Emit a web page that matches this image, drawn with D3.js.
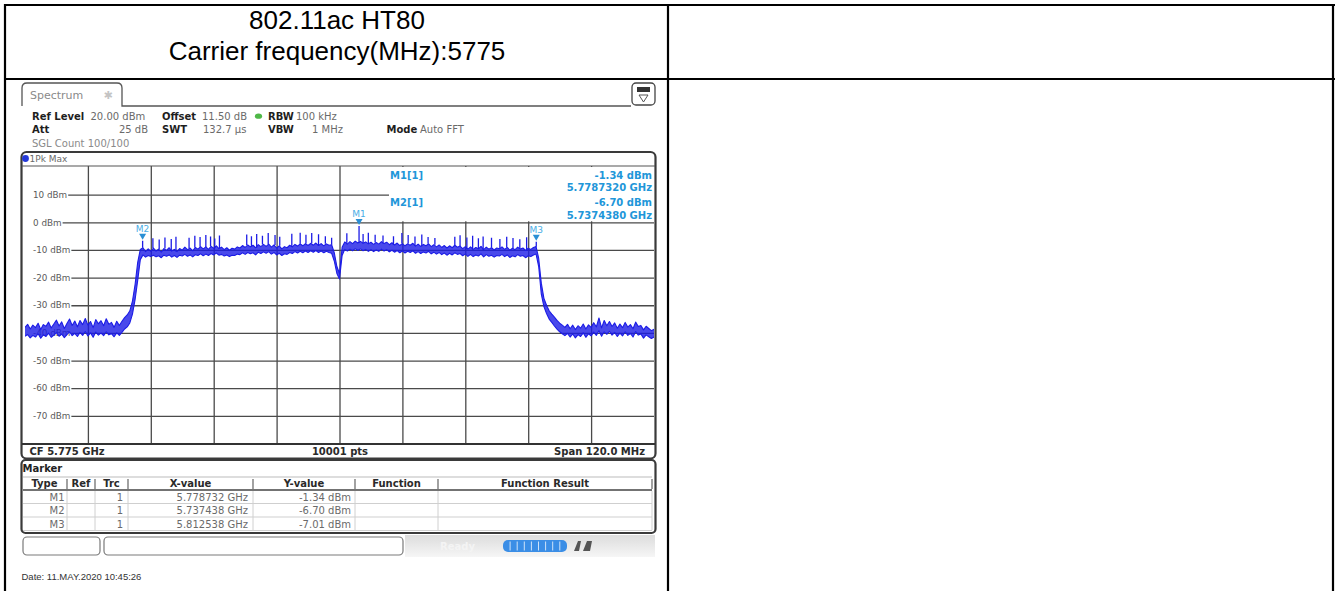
<!DOCTYPE html>
<html>
<head>
<meta charset="utf-8">
<script src="https://cdn.jsdelivr.net/npm/d3@7"></script>
<style>
  html, body { margin: 0; padding: 0; background: #fff; }
  svg { display: block; }
</style>
</head>
<body>
<svg id="chart" width="1338" height="591"></svg>
<script>
// ---- Sweep settings ----
const startMHz = 5715;
const stopMHz = 5835;
const stepMHz = 0.5;
const refLevelDbm = 20;
const bottomLevelDbm = -80;

// ---- Axis ticks ----
const yTickValues = [10, 0, -10, -20, -30, -40, -50, -60, -70];
const yTickLabels = ["10 dBm", "0 dBm", "-10 dBm", "-20 dBm", "-30 dBm", "-40 dBm", "-50 dBm", "-60 dBm", "-70 dBm"];
const xGridMHz = [5727, 5739, 5751, 5763, 5775, 5787, 5799, 5811, 5823];

// ---- Trace 1 (1Pk Max): upper envelope, one reading every 0.5 MHz from 5715 MHz ----
const traceMaxDbm = [
  -38.0,-36.9,-38.6,-37.2,-38.1,-36.5,-38.8,-37.0,-37.6,-36.1,
  -38.2,-36.8,-35.4,-37.5,-36.0,-38.4,-36.6,-35.0,-37.3,-35.7,
  -37.8,-35.5,-37.0,-34.8,-37.2,-35.9,-38.1,-35.2,-36.7,-35.6,
  -37.4,-34.9,-36.9,-36.2,-38.0,-35.8,-37.3,-35.8,-34.5,-33.5,
  -32.0,-28.5,-22.5,-14.5,-9.8,-9.2,-10.6,-9.6,-10.5,-9.3,
  -10.4,-9.7,-10.8,-9.5,-10.2,-9.2,-10.4,-9.8,-10.6,-9.5,
  -10.1,-9.0,-9.9,-9.3,-10.3,-9.1,-9.7,-8.8,-9.6,-8.9,
  -9.8,-8.7,-9.4,-8.5,-9.5,-9.0,-9.9,-9.2,-10.1,-9.4,
  -9.7,-8.9,-9.3,-8.4,-9.1,-8.2,-8.9,-8.3,-9.2,-8.1,
  -8.8,-8.0,-8.7,-7.9,-9.0,-8.2,-9.3,-8.5,-9.6,-8.8,
  -9.2,-8.3,-8.9,-8.0,-8.6,-7.8,-8.5,-7.7,-8.4,-7.6,
  -8.3,-7.5,-8.4,-7.7,-8.5,-7.8,-8.3,-8.1,-11.0,-16.0,
  -18.5,-9.0,-7.1,-7.9,-7.0,-7.7,-6.8,-7.5,-6.9,-7.6,
  -7.1,-7.8,-7.2,-8.0,-7.3,-7.9,-7.0,-7.7,-7.2,-8.1,
  -7.4,-8.2,-7.5,-8.4,-7.7,-8.5,-7.8,-8.3,-7.6,-8.6,
  -7.9,-8.7,-8.0,-8.5,-7.8,-8.8,-8.1,-8.9,-8.2,-9.1,
  -8.4,-9.3,-8.5,-9.2,-8.3,-9.0,-8.6,-9.5,-8.8,-9.7,
  -8.9,-9.8,-9.1,-9.6,-8.7,-9.9,-9.0,-9.7,-9.2,-10.0,
  -9.3,-9.6,-8.9,-9.8,-9.1,-10.1,-9.4,-9.9,-9.0,-9.7,
  -9.3,-10.2,-9.4,-9.8,-9.1,-8.8,-13.0,-22.0,-27.5,-30.0,
  -32.0,-33.2,-34.3,-35.5,-36.5,-37.2,-38.0,-36.9,-38.5,-37.2,
  -38.8,-37.4,-38.3,-36.8,-38.6,-37.1,-38.0,-36.3,-37.8,-34.6,
  -38.2,-35.5,-37.4,-35.9,-37.7,-36.4,-38.3,-36.8,-38.1,-36.2,
  -37.9,-37.0,-38.5,-36.1,-37.7,-37.3,-38.9,-37.6,-38.4,-39.2,
  -38.7
];

// ---- Trace 1: lower envelope at the same sweep points ----
const traceMinDbm = [
  -41.2,-40.6,-41.8,-40.9,-41.5,-40.3,-41.9,-40.7,-41.3,-40.1,
  -41.6,-40.8,-39.9,-41.2,-40.4,-41.7,-40.6,-39.6,-41.0,-40.2,
  -41.3,-39.8,-40.9,-39.5,-41.1,-40.0,-41.6,-39.7,-40.8,-40.1,
  -41.0,-39.6,-40.7,-40.3,-41.4,-40.0,-40.9,-39.8,-38.6,-37.8,
  -36.4,-33.2,-28.0,-21.0,-13.5,-11.8,-12.6,-12.0,-12.4,-11.9,
  -12.5,-12.1,-12.8,-11.9,-12.3,-11.8,-12.6,-12.0,-12.7,-11.9,
  -12.2,-11.6,-12.3,-11.8,-12.5,-11.7,-12.0,-11.4,-12.1,-11.5,
  -12.0,-11.3,-11.8,-11.1,-11.9,-11.6,-12.2,-11.8,-12.4,-11.9,
  -12.0,-11.5,-11.7,-11.0,-11.6,-10.9,-11.4,-11.0,-11.8,-10.8,
  -11.3,-10.7,-11.2,-10.6,-11.5,-10.9,-11.8,-11.2,-12.0,-11.4,
  -11.6,-10.9,-11.3,-10.6,-11.1,-10.5,-11.0,-10.4,-10.9,-10.3,
  -10.8,-10.2,-10.9,-10.4,-11.0,-10.5,-10.9,-11.2,-14.0,-18.5,
  -20.5,-12.0,-9.8,-10.4,-9.7,-10.3,-9.5,-10.2,-9.6,-10.3,
  -9.8,-10.5,-9.9,-10.6,-10.0,-10.5,-9.7,-10.4,-9.9,-10.7,
  -10.1,-10.8,-10.2,-11.0,-10.4,-11.1,-10.5,-10.9,-10.3,-11.2,
  -10.6,-11.3,-10.7,-11.1,-10.5,-11.4,-10.8,-11.5,-10.9,-11.7,
  -11.1,-11.9,-11.2,-11.8,-11.0,-11.6,-11.3,-12.1,-11.5,-12.3,
  -11.6,-12.4,-11.8,-12.2,-11.4,-12.5,-11.7,-12.3,-11.9,-12.6,
  -12.0,-12.2,-11.6,-12.4,-11.8,-12.7,-12.1,-12.5,-11.7,-12.3,
  -12.0,-12.8,-12.1,-12.4,-11.8,-11.5,-16.0,-26.0,-30.5,-33.0,
  -35.0,-36.2,-37.5,-38.6,-39.6,-40.3,-41.0,-40.2,-41.5,-40.4,
  -41.8,-40.6,-41.3,-40.0,-41.6,-40.3,-41.1,-39.7,-40.9,-39.2,
  -41.2,-39.6,-40.5,-39.4,-40.8,-39.8,-41.3,-40.1,-41.1,-39.6,
  -40.9,-40.2,-41.5,-39.5,-40.8,-40.4,-41.9,-40.7,-41.4,-42.0,
  -41.5
];

// ---- Narrow in-band spurs (frequency, peak level) ----
const spurMHz = [
  5737.44, 5739.4, 5740.6, 5741.7, 5742.9, 5743.8, 5746.3, 5747.4, 5748.4, 5749.5,
  5750.4, 5751.2, 5752.1, 5757.3, 5758.2, 5759.2, 5760.3, 5761.4, 5762.7, 5763.6,
  5765.9, 5767.5, 5768.6, 5769.7, 5771.0, 5772.3, 5773.5, 5776.4, 5778.73, 5779.5,
  5780.5, 5781.8, 5783.3, 5785.3, 5786.9, 5788.1, 5789.4, 5790.7, 5791.9, 5793.2,
  5797.0, 5798.0, 5799.3, 5800.4, 5801.5, 5802.4, 5804.0, 5805.6, 5806.9, 5808.1,
  5809.4, 5810.7, 5812.54
];
const spurDbm = [
  -6.7, -5.8, -6.2, -5.5, -6.0, -5.2, -5.6, -4.9, -5.3, -4.6,
  -5.1, -5.9, -4.8, -4.4, -5.0, -4.2, -4.9, -3.9, -4.6, -5.2,
  -4.1, -3.8, -4.5, -3.9, -4.3, -5.0, -5.6, -4.0, -1.34, -4.2,
  -3.8, -4.5, -4.8, -5.0, -3.9, -4.6, -5.1, -4.4, -5.3, -5.7,
  -5.2, -4.7, -5.5, -4.9, -5.8, -5.1, -5.6, -6.0, -5.2, -5.7,
  -6.1, -5.4, -7.01
];

// ---- Markers ----
const markerNames = ["M1", "M2", "M3"];
const markerMHz = [5778.732, 5737.438, 5812.538];
const markerDbm = [-1.34, -6.70, -7.01];

// ---- Marker table columns ----
const tableHeaders = ["Type", "Ref", "Trc", "X-value", "Y-value", "Function", "Function Result"];

const UI_FONT = "DejaVu Sans";
const svg = d3.select("#chart");
const defs = svg.append("defs");

function txt(sel, x, y, s, o = {}) {
  return sel.append("text")
    .attr("x", x).attr("y", y).text(s)
    .attr("font-family", o.ff || UI_FONT)
    .attr("font-size", o.fs || 10)
    .attr("font-weight", o.fw || "normal")
    .attr("fill", o.fill || "#6a6a6a")
    .attr("text-anchor", o.anchor || "start");
}

// ================= Report table =================
const tbl = svg.append("g").attr("stroke", "#000").attr("stroke-width", 2.2);
[[4, 5, 1335, 5], [4, 79, 1335, 79], [5, 4, 5, 591], [668, 4, 668, 591], [1333, 4, 1333, 591]]
  .forEach(([x1, y1, x2, y2]) => tbl.append("line").attr("x1", x1).attr("y1", y1).attr("x2", x2).attr("y2", y2));

txt(svg, 337, 28.5, "802.11ac HT80", { ff: "Liberation Sans", fs: 26, fill: "#000", anchor: "middle" });
txt(svg, 337, 59.5, "Carrier frequency(MHz):5775", { ff: "Liberation Sans", fs: 26, fill: "#000", anchor: "middle" });

// ================= Analyzer screen =================
const ui = svg.append("g");

// Tab "Spectrum"
ui.append("path")
  .attr("d", "M22,106 L22,88 Q22,83 27,83 L117,83 Q122,83 122,88 L122,106 L631,106")
  .attr("fill", "none").attr("stroke", "#555").attr("stroke-width", 1.3);
txt(ui, 30, 98.5, "Spectrum", { fs: 11, fill: "#8a8a8a" });
txt(ui, 108, 98.5, "\u2731", { fs: 11, fill: "#c4c4c4", anchor: "middle" });

// Display-config icon
ui.append("rect").attr("x", 632).attr("y", 83).attr("width", 23).attr("height", 22).attr("rx", 4)
  .attr("fill", "#fff").attr("stroke", "#444").attr("stroke-width", 1.3);
ui.append("rect").attr("x", 637).attr("y", 87).attr("width", 13).attr("height", 5).attr("fill", "#333");
ui.append("path").attr("d", "M639,95 L648,95 L643.5,102 Z").attr("fill", "none").attr("stroke", "#555").attr("stroke-width", 1);

// Settings header
const B = { fw: "bold", fill: "#1e1e1e" };
txt(ui, 32, 119.5, "Ref Level", B);
txt(ui, 90.5, 119.5, "20.00 dBm");
txt(ui, 162, 119.5, "Offset", B);
txt(ui, 202, 119.5, "11.50 dB");
ui.append("ellipse").attr("cx", 258.5).attr("cy", 116.2).attr("rx", 3.6).attr("ry", 2.6).attr("fill", "#4fb848");
txt(ui, 268, 119.5, "RBW", B);
txt(ui, 296, 119.5, "100 kHz");
txt(ui, 32, 133, "Att", B);
txt(ui, 148, 133, "25 dB", { anchor: "end" });
txt(ui, 162, 133, "SWT", B);
txt(ui, 203, 133, "132.7 \u00b5s");
txt(ui, 268, 133, "VBW", B);
txt(ui, 343, 133, "1 MHz", { anchor: "end" });
txt(ui, 386.5, 133, "Mode", B);
txt(ui, 420, 133, "Auto FFT");
txt(ui, 32, 146.5, "SGL Count 100/100", { fill: "#8a8a8a" });

// Diagram frame
const px0 = 25, px1 = 654, py0 = 166, py1 = 443.5;
ui.append("rect").attr("x", 21.5).attr("y", 152).attr("width", 634).attr("height", 306.5).attr("rx", 5)
  .attr("fill", "#fff").attr("stroke", "#3a3a3a").attr("stroke-width", 2.2);
ui.append("circle").attr("cx", 25.5).attr("cy", 158.5).attr("r", 3.4).attr("fill", "#2438d8");
txt(ui, 29.5, 162, "1Pk Max", { fs: 9, fill: "#6a6a6a" });

const x = d3.scaleLinear().domain([startMHz, stopMHz]).range([px0, px1]);
const y = d3.scaleLinear().domain([bottomLevelDbm, refLevelDbm]).range([py1, py0 + 1]);

// Grid
const grid = ui.append("g");
grid.append("g")
  .attr("transform", `translate(0,${py1})`)
  .call(d3.axisBottom(x).tickValues(xGridMHz).tickSize(-(py1 - py0)).tickFormat(""))
  .call(g => g.select(".domain").remove())
  .call(g => g.selectAll("line").attr("stroke", "#4a4a4a").attr("stroke-width", 1.3));
grid.append("g")
  .attr("transform", `translate(${px0},0)`)
  .call(d3.axisRight(y).tickValues(yTickValues).tickSize(px1 - px0).tickFormat(""))
  .call(g => g.select(".domain").remove())
  .call(g => g.selectAll("line").attr("stroke", "#4a4a4a").attr("stroke-width", 1.3));

// Diagram borders (top edge and status-line edge)
ui.append("line").attr("x1", 22).attr("x2", 655).attr("y1", py0).attr("y2", py0).attr("stroke", "#555").attr("stroke-width", 1.2);
ui.append("line").attr("x1", 22).attr("x2", 655).attr("y1", py1 + 0.5).attr("y2", py1 + 0.5).attr("stroke", "#333").attr("stroke-width", 2);

// Marker info field
ui.append("rect").attr("x", 389).attr("y", py0 + 1).attr("width", px1 - 389).attr("height", y(0) - py0 - 2).attr("fill", "#fff");

// Y labels on a white backing
const ylab = ui.append("g");
yTickValues.forEach((v, i) => {
  const t = txt(ylab, 33, y(v) + 3.2, yTickLabels[i], { fs: 8.8, fill: "#5a5a5a" });
  const w = t.node().getComputedTextLength();
  ylab.insert("rect", "text").attr("x", 23).attr("y", y(v) - 2).attr("width", 33 - 23 + w + 1).attr("height", 4).attr("fill", "#fff");
});

// Marker info text
const MC = "#2196d9";
txt(ui, 390, 178.5, `${markerNames[0]}[1]`, { fw: "bold", fill: MC });
txt(ui, 652, 178.5, `${markerDbm[0].toFixed(2)} dBm`, { fw: "bold", fill: MC, anchor: "end" });
txt(ui, 652, 190.5, `${(markerMHz[0] / 1000).toFixed(7)} GHz`, { fw: "bold", fill: MC, anchor: "end" });
txt(ui, 390, 206, `${markerNames[1]}[1]`, { fw: "bold", fill: MC });
txt(ui, 652, 206, `${markerDbm[1].toFixed(2)} dBm`, { fw: "bold", fill: MC, anchor: "end" });
txt(ui, 652, 218.5, `${(markerMHz[1] / 1000).toFixed(7)} GHz`, { fw: "bold", fill: MC, anchor: "end" });

// Trace: band between lower and upper envelope, both edges stroked
defs.append("clipPath").attr("id", "plotClip")
  .append("rect").attr("x", px0).attr("y", py0).attr("width", px1 - px0).attr("height", py1 - py0);
const tr = ui.append("g").attr("clip-path", "url(#plotClip)");
const TRACE = "#1c1ce6";
const pts = traceMaxDbm.map((v, i) => ({ f: startMHz + i * stepMHz, hi: v, lo: traceMinDbm[i] }));
tr.append("path")
  .attr("d", d3.area().x(d => x(d.f)).y0(d => y(d.lo)).y1(d => y(d.hi))(pts))
  .attr("fill", TRACE).attr("fill-opacity", 0.8);
tr.append("path")
  .attr("d", d3.line().x(d => x(d.f)).y(d => y(d.hi))(pts))
  .attr("fill", "none").attr("stroke", TRACE).attr("stroke-width", 1.1).attr("stroke-linejoin", "round");
tr.append("path")
  .attr("d", d3.line().x(d => x(d.f)).y(d => y(d.lo))(pts))
  .attr("fill", "none").attr("stroke", TRACE).attr("stroke-width", 1.1).attr("stroke-linejoin", "round");
spurMHz.forEach((f, i) => {
  const base = traceMaxDbm[Math.round((f - startMHz) / stepMHz)];
  tr.append("line")
    .attr("x1", x(f)).attr("x2", x(f))
    .attr("y1", y(base)).attr("y2", y(spurDbm[i]))
    .attr("stroke", TRACE).attr("stroke-width", 1.3);
});

// Marker symbols
const mk = ui.append("g");
markerNames.forEach((n, i) => {
  const cx = x(markerMHz[i]), cy = y(markerDbm[i]);
  mk.append("path").attr("d", `M${cx - 3.5},${cy - 7} L${cx + 3.5},${cy - 7} L${cx},${cy - 1} Z`).attr("fill", "#2a8fd4");
  txt(mk, cx, cy - 9, n, { fs: 9, fill: "#4aaee6", anchor: "middle" });
});

// Status line of diagram
txt(ui, 29.5, 455, "CF 5.775 GHz", { fw: "bold", fill: "#2a2a2a" });
txt(ui, 340, 455, "10001 pts", { fw: "bold", fill: "#2a2a2a", anchor: "middle" });
txt(ui, 645, 455, "Span 120.0 MHz", { fw: "bold", fill: "#2a2a2a", anchor: "end" });

// ================= Marker table =================
const mt = ui.append("g");
mt.append("rect").attr("x", 21.5).attr("y", 460).attr("width", 634).attr("height", 73).attr("rx", 4)
  .attr("fill", "#fff").attr("stroke", "#3a3a3a").attr("stroke-width", 2.2);
txt(mt, 22.5, 471.5, "Marker", { fw: "bold", fill: "#222" });
const colEdges = [22, 67, 95, 128, 253, 355, 438, 652];
mt.append("line").attr("x1", 23).attr("x2", 652).attr("y1", 477).attr("y2", 477).attr("stroke", "#bbb").attr("stroke-width", 1);
mt.append("line").attr("x1", 23).attr("x2", 652).attr("y1", 490).attr("y2", 490).attr("stroke", "#444").attr("stroke-width", 1.4);
tableHeaders.forEach((h, i) => {
  txt(mt, (colEdges[i] + colEdges[i + 1]) / 2, 487, h, { fw: "bold", fill: "#2a2a2a", anchor: "middle" });
});
colEdges.slice(1).forEach(cx => {
  mt.append("line").attr("x1", cx).attr("x2", cx).attr("y1", 479).attr("y2", 489).attr("stroke", "#555").attr("stroke-width", 1.1);
  mt.append("line").attr("x1", cx).attr("x2", cx).attr("y1", 491).attr("y2", 530).attr("stroke", "#d0d0d0").attr("stroke-width", 1);
});
const rowBase = [500.5, 514, 527.5];
[503.5, 517, 530.5].forEach(ry => mt.append("line").attr("x1", 23).attr("x2", 652).attr("y1", ry).attr("y2", ry).attr("stroke", "#cfcfcf").attr("stroke-width", 1));
markerNames.forEach((n, i) => {
  txt(mt, 64.5, rowBase[i], n, { anchor: "end" });
  txt(mt, 123, rowBase[i], "1", { anchor: "end" });
  txt(mt, 248, rowBase[i], `${(markerMHz[i] / 1000).toFixed(6)} GHz`, { anchor: "end" });
  txt(mt, 351, rowBase[i], `${markerDbm[i].toFixed(2)} dBm`, { anchor: "end" });
});

// ================= Instrument status bar =================
const sb = ui.append("g");
const grad = defs.append("linearGradient").attr("id", "barGrad").attr("x1", 0).attr("x2", 0).attr("y1", 0).attr("y2", 1);
grad.append("stop").attr("offset", "0%").attr("stop-color", "#dcdcdc");
grad.append("stop").attr("offset", "100%").attr("stop-color", "#f6f6f6");
sb.append("rect").attr("x", 405).attr("y", 535).attr("width", 250).attr("height", 22).attr("fill", "url(#barGrad)");
sb.append("rect").attr("x", 23).attr("y", 537).attr("width", 77).attr("height", 18).attr("rx", 4).attr("fill", "#fff").attr("stroke", "#7a7a7a").attr("stroke-width", 1.2);
sb.append("rect").attr("x", 104).attr("y", 537).attr("width", 299).attr("height", 18).attr("rx", 4).attr("fill", "#fff").attr("stroke", "#7a7a7a").attr("stroke-width", 1.2);
txt(sb, 440, 550, "Ready", { fw: "bold", fill: "#f4f4f4" });
sb.append("rect").attr("x", 503).attr("y", 540).attr("width", 64).attr("height", 12).attr("rx", 5).attr("fill", "#3b8ee6");
d3.range(1, 9).forEach(k => sb.append("line").attr("x1", 503 + k * 7.1).attr("x2", 503 + k * 7.1).attr("y1", 541.5).attr("y2", 550.5).attr("stroke", "#cfe3f8").attr("stroke-width", 1));
sb.append("path").attr("d", "M574,551 L578,541 L581,541 L579,551 Z M583,551 L587,541 L592,541 L590,551 Z").attr("fill", "#555");

// Timestamp
txt(svg, 21.5, 580, "Date: 11.MAY.2020  10:45:26", { ff: "Liberation Sans", fs: 9.5, fill: "#333" });
</script>
</body>
</html>
